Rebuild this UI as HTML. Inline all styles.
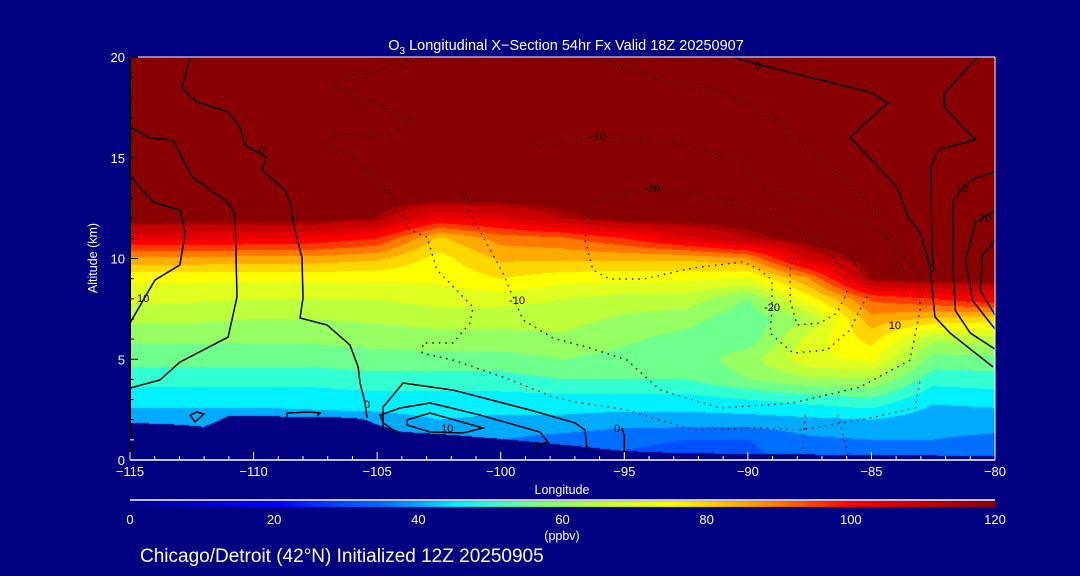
<!DOCTYPE html>
<html><head><meta charset="utf-8"><style>
html,body{margin:0;padding:0;background:#000080;}
#wrap{position:relative;width:1080px;height:576px;overflow:hidden;background:#000080;font-family:"Liberation Sans",sans-serif;color:#fff;}
canvas,svg{position:absolute;left:0;top:0;}
</style></head><body>
<div id="wrap">
<canvas id="cv" width="1080" height="576"></canvas>
<svg id="sv" width="1080" height="576"></svg>
</div>
<script>
const lons=[-115,-112.5,-110,-107.5,-105,-102.5,-100,-97.5,-95,-92.5,-90,-87.5,-85,-82.5,-80];
const alts=[0,1,2,3,4,5,6,7,8,9,10,11,12,13,20];
const ozone=[
[40,40,42,47,52,57,61,66,71,76,89,106,120,120,120],
[40,40,42,47,52,57,61,66,71,76,89,106,120,120,120],
[40,40,42,47,52,57,61,65,70,76,88,105,120,120,120],
[40,40,43,47,52,57,61,65,70,76,88,104,120,120,120],
[40,40,43,48,53,58,62,66,70,76,86,100,117,120,120],
[40,42,45,48,53,58,63,67,72,76,78,84,105,120,120],
[38,40,44,48,53,58,63,67,72,80,86,92,108,120,120],
[36,38,44,48,55,60,64,67,70,77,86,94,115,120,120],
[34,36,43,48,55,58,61,64,68,76,86,100,120,120,120],
[33,35,43,48,55,57,58,62,68,76,86,108,120,120,120],
[33,35,43,50,60,63,57,56,60,74,90,115,120,120,120],
[38,39,44,52,64,74,72,66,78,90,112,120,120,120,120],
[38,40,45,54,65,76,82,88,96,118,120,120,120,120,120],
[38,40,42,46,52,58,66,84,100,120,120,120,120,120,120],
[36,39,42,47,53,58,68,82,105,120,120,120,120,120,120]];
const terrainLon=[-115,-113,-112,-111.5,-111,-106,-105.5,-105,-104,-102,-100,-97,-95,-93,-90,-85,-80];
const terrainAlt=[1.85,1.75,1.65,1.9,2.2,2.1,2.0,1.75,1.4,1.25,1.05,0.7,0.45,0.35,0.3,0.25,0.2];
const xTicks=[-115,-110,-105,-100,-95,-90,-85,-80];
const yTicks=[0,5,10,15,20];
const cbTicks=[0,20,40,60,80,100,120];
const cmapV=[0,10,20,30,35,40,45,50,55,60,65,70,75,80,85,90,95,100,110,120];
const cmapC=[[0,0,140],[0,0,200],[0,0,255],[0,80,255],[0,110,255],[0,170,255],[0,240,255],[50,255,210],[110,255,140],[150,255,100],[190,255,60],[225,255,30],[255,255,0],[255,215,0],[255,170,0],[255,120,0],[255,60,0],[255,0,0],[200,0,0],[136,0,0]];
const contSolid=[
[[-115,14.09],[-114.07,12.8],[-112.98,12.41],[-112.77,11.27],[-112.98,9.68],[-113.99,8.93],[-114.39,8.09],[-115,6.8]],
[[-115,16.53],[-114.19,15.98],[-113.26,15.88],[-112.49,14.04],[-111.97,13.6],[-111.28,13.0],[-110.96,12.66],[-110.75,12.16],[-110.67,8.09],[-111.03,6.1],[-112.98,4.86],[-113.79,3.97],[-115,3.57]],
[[-112.57,20],[-112.9,18.46],[-112.29,17.77],[-111.03,17.27],[-110.55,16.53],[-110.35,15.63],[-109.5,15.04],[-109.66,14.39],[-108.73,13.4],[-108.49,12.66],[-108.4,11.76],[-108.04,10.03],[-108.0,8.04],[-108.12,7.05],[-107.03,6.7],[-106.1,5.71],[-105.77,4.62],[-105.69,3.82],[-105.49,2.83],[-105.41,2.08]],
[[-104.76,1.39],[-104.76,2.63],[-103.95,3.82],[-101.93,3.47],[-98.81,2.48],[-96.99,1.84],[-96.59,1.49],[-96.51,0.5]],
[[-104.07,1.24],[-104.76,1.84],[-104.88,2.23],[-104.07,2.58],[-102.86,2.83],[-102.17,2.63],[-100.84,2.23],[-98.41,1.39],[-98.09,0.89],[-98.53,0.74],[-98.53,0.5]],
[[-103.79,1.99],[-102.86,2.33],[-100.72,1.59],[-101.53,1.34],[-102.86,1.39],[-103.79,1.74],[-103.79,1.99]],
[[-112.57,2.23],[-112.29,2.38],[-112.01,2.28],[-112.37,1.89],[-112.57,2.23]],
[[-108.65,2.13],[-108.65,2.33],[-107.72,2.38],[-107.31,2.33],[-107.43,2.18]],
[[-95.1,1.6],[-95.0,1.2],[-95.0,0.3]],
[[-90.6,20],[-89.63,19.65],[-85.06,18.26],[-84.33,17.72],[-85.87,16.03],[-83.96,13.55],[-83.52,12.06],[-83.03,11.27],[-82.63,9.58],[-82.43,7.1],[-81.82,6.3],[-80.08,4.62]],
[[-80.7,20],[-82.05,18.2],[-82.05,17.5],[-80.8,15.9],[-82.3,15.4],[-82.6,14.5],[-82.55,10.4],[-82.5,9.6]],
[[-80,14.3],[-81,13.9],[-81.7,12.9],[-81.7,9.6],[-81.6,7.4],[-81,6.3],[-80,5.5]],
[[-80,12.4],[-80.8,11.8],[-81.2,9.9],[-80.9,7.9],[-80,6.5]],
[[-80,10.9],[-80.5,10.2],[-80.6,8.4],[-80,7.2]]];
const contDot=[
[[-96.27,12.75],[-95.17,13.25],[-93.68,13.5],[-92.22,13.25],[-90.6,12.75],[-88.82,12.0],[-87.2,10.92],[-85.75,9.93],[-85.06,8.44],[-85.87,6.45],[-86.8,5.46],[-88.17,5.31],[-89.1,6.3],[-89.02,7.59],[-89.02,8.93],[-89.51,9.43],[-90.2,9.83],[-92.22,9.53],[-94.24,8.98],[-95.58,8.98],[-96.27,9.43],[-96.59,10.92],[-96.27,12.75]],
[[-88.01,10.77],[-88.29,9.43],[-88.29,7.94],[-88.01,6.7],[-87.08,6.8],[-86.39,7.3],[-85.99,8.29],[-86.15,9.43],[-86.8,10.42],[-87.36,10.77]],
[[-101.77,13.9],[-101.24,12.26],[-99.91,9.28],[-99.1,6.95],[-97.88,6.05],[-96.39,5.56],[-94.89,4.96],[-93.55,3.47],[-91.13,2.58],[-88.17,2.83],[-85.46,3.62],[-83.44,4.96],[-83.03,7.44],[-83.03,9.08],[-84.13,10.77],[-85.46,11.91],[-87.49,12.9],[-89.51,13.55],[-90.32,14.89],[-91.94,15.38],[-93.55,15.88],[-96.06,16.03],[-97.6,15.73],[-98.81,15.63]],
[[-102.98,19.95],[-105.41,19.2],[-106.79,18.56],[-105.69,18.01],[-103.55,16.87],[-104.76,15.98],[-106.79,16.23],[-107.23,15.78],[-106.1,15.04],[-105.41,14.39],[-104.36,12.9],[-103.67,11.41],[-102.98,11.07],[-102.58,9.43],[-101.12,7.59],[-101.24,6.8],[-101.93,5.81],[-103.14,5.81],[-103.18,5.31],[-101.93,4.96],[-99.91,4.12],[-97.88,3.13],[-96.79,2.83],[-94.89,2.48],[-92.22,1.49],[-89.51,1.59],[-87.89,1.49],[-85.06,2.08],[-83.24,2.58],[-83.03,3.97]],
[[-95.86,19.85],[-93.55,18.86],[-90.84,18.21],[-88.98,17.02],[-87.08,14.89],[-85.46,13.4],[-84.65,12.06],[-84.13,10.42],[-83.64,7.94]],
[[-87.69,2.23],[-87.77,0.25]],
[[-86.35,2.23],[-85.95,0.25]]];
const contLabels=[[-109.66,15.38,"0"],[-114.47,8.04,"10"],[-105.41,2.78,"0"],[-102.17,1.59,"10"],[-95.29,1.59,"0"],[-89.59,19.6,"0"],[-96.06,16.08,"-10"],[-93.88,13.5,"-20"],[-99.34,7.94,"-10"],[-89.02,7.59,"-20"],[-84.05,6.7,"10"],[-82.55,9.53,"0"],[-81.33,13.5,"10"],[-80.4,12.0,"20"]];

const X0=130,X1=995,Y0=460,Y1=57;
function xs(l){return X0+(l+115)/35*(X1-X0);}
function ys(a){return Y0-a/20*(Y0-Y1);}
function cmap(v){v=Math.max(0,Math.min(120,v));for(let i=1;i<cmapV.length;i++){if(v<=cmapV[i]){const t=(v-cmapV[i-1])/(cmapV[i]-cmapV[i-1]);const a=cmapC[i-1],b=cmapC[i];return [a[0]+(b[0]-a[0])*t,a[1]+(b[1]-a[1])*t,a[2]+(b[2]-a[2])*t];}}return cmapC[cmapC.length-1];}
function idx(arr,v){for(let i=0;i<arr.length-1;i++){if(v<=arr[i+1])return [i,(v-arr[i])/(arr[i+1]-arr[i])];}return [arr.length-2,1];}
function field(l,a){const [i,tx]=idx(lons,l);const [j,ty]=idx(alts,a);
const v00=ozone[i][j],v10=ozone[i+1][j],v01=ozone[i][j+1],v11=ozone[i+1][j+1];
return (v00*(1-tx)+v10*tx)*(1-ty)+(v01*(1-tx)+v11*tx)*ty;}
function terr(l){const [i,t]=idx(terrainLon,l);return terrainAlt[i]*(1-t)+terrainAlt[i+1]*t;}
const cv=document.getElementById('cv');const ctx=cv.getContext('2d');
const img=ctx.createImageData(X1-X0,Y0-Y1);
for(let py=0;py<Y0-Y1;py++){const a=(Y0-(Y1+py+0.5))/(Y0-Y1)*20;
for(let px=0;px<X1-X0;px++){const l=-115+(px+0.5)/(X1-X0)*35;let c;
if(a<terr(l))c=[0,0,128];else{let v=field(l,a);v=v>=117?120:Math.floor(v/5)*5;c=cmap(v);}
const k=(py*(X1-X0)+px)*4;img.data[k]=c[0];img.data[k+1]=c[1];img.data[k+2]=c[2];img.data[k+3]=255;}}
ctx.putImageData(img,X0,Y1);
for(let px=X0;px<=X1;px++){const c=cmap((px-X0)/(X1-X0)*120);ctx.fillStyle=`rgb(${c[0]|0},${c[1]|0},${c[2]|0})`;ctx.fillRect(px,501,1,6);}
const NS='http://www.w3.org/2000/svg';const sv=document.getElementById('sv');
function el(t,at,txt){const e=document.createElementNS(NS,t);for(const k in at)e.setAttribute(k,at[k]);if(txt!==undefined)e.textContent=txt;sv.appendChild(e);return e;}
contSolid.forEach(c=>{const e=el('polyline',{points:c.map(p=>xs(p[0])+','+ys(p[1])).join(' '),fill:'none',stroke:'#000','stroke-width':1.5});

});
contDot.forEach(c=>{const e=el('polyline',{points:c.map(p=>xs(p[0])+','+ys(p[1])).join(' '),fill:'none',stroke:'#000','stroke-width':1.3,'stroke-dasharray':'1.5 5'});

});
contLabels.forEach(c=>{const e=el('text',{x:xs(c[0]),y:ys(c[1])+4,'font-size':11,fill:'#000','text-anchor':'middle'},c[2]);

});
el('line',{x1:X0,y1:Y1,x2:X1,y2:Y1,stroke:'#fff','stroke-width':1});
el('line',{x1:X1,y1:Y1,x2:X1,y2:Y0,stroke:'#fff','stroke-width':1});
el('line',{x1:X0,y1:Y0,x2:X1,y2:Y0,stroke:'#fff','stroke-width':1.5});
el('line',{x1:X0,y1:Y1,x2:X0,y2:Y0,stroke:'#000','stroke-width':2});
for(let l=-115;l<=-80;l++){const maj=(l%5===0);el('line',{x1:xs(l),y1:Y0,x2:xs(l),y2:Y0-(maj?8:4),stroke:'#fff'});}
xTicks.forEach(l=>{const e=el('text',{x:xs(l),y:476,'font-size':13,fill:'#fff','text-anchor':'middle'},String(l).replace('-','\u2212'));

});
for(let a=0;a<=20;a++){el('line',{x1:X0,y1:ys(a),x2:X0+(a%5===0?8:4),y2:ys(a),stroke:a<2?'#fff':'#000'});}
yTicks.forEach(a=>{const e=el('text',{x:125,y:ys(a)+5,'font-size':13,fill:'#fff','text-anchor':'end'},String(a));

});
el('line',{x1:X0,y1:500,x2:X1,y2:500,stroke:'#fff','stroke-width':1.5});
cbTicks.forEach(v=>{const e=el('text',{x:X0+v/120*(X1-X0),y:524,'font-size':13,fill:'#fff','text-anchor':'middle'},String(v));

});
</script>
<svg width="1080" height="576" style="position:absolute;left:0;top:0;pointer-events:none">
<text x="566" y="50" font-size="14.5" fill="#fff" text-anchor="middle" font-family="Liberation Sans">O<tspan font-size="10" dy="4">3</tspan><tspan dy="-4"> Longitudinal X−Section 54hr  Fx Valid 18Z 20250907</tspan></text>
<text x="562" y="494" font-size="12.5" fill="#fff" text-anchor="middle" font-family="Liberation Sans">Longitude</text>
<text x="97" y="258" font-size="12.5" fill="#fff" text-anchor="middle" font-family="Liberation Sans" transform="rotate(-90 97 258)">Altitude (km)</text>
<text x="562" y="540" font-size="12.5" fill="#fff" text-anchor="middle" font-family="Liberation Sans">(ppbv)</text>
<text x="140" y="562" font-size="19" fill="#fff" font-family="Liberation Sans">Chicago/Detroit (42°N) Initialized 12Z 20250905</text>
</svg>
</body></html>
